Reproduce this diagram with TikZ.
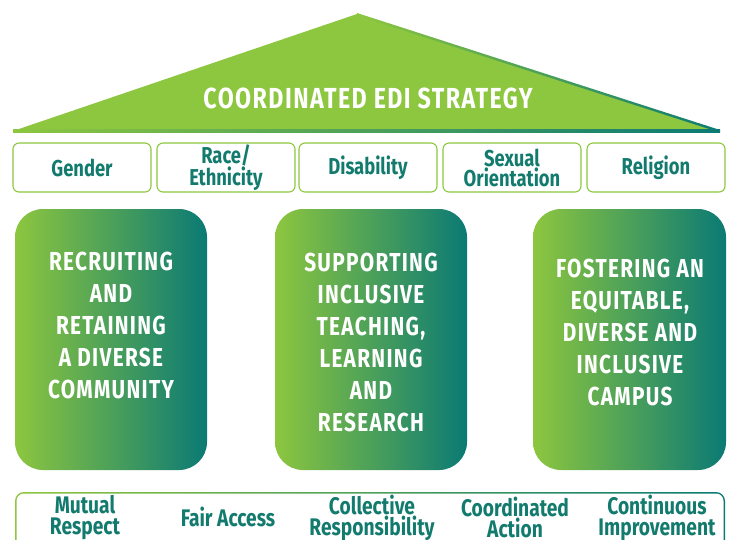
\documentclass[tikz,border=0pt]{standalone}
\usepackage{fontspec}
\setmainfont{Fira Sans}[FakeStretch=0.8]
\newfontfamily\capsfont{Fira Sans}[FakeStretch=0.8,LetterSpace=5]
\definecolor{lgreen}{HTML}{8DC63F}
\definecolor{dteal}{HTML}{0B7A74}
\definecolor{tealtext}{HTML}{127B6E}
\tikzset{
  catbox/.style={draw=lgreen, line width=1.1pt, rounded corners=6pt, fill=white},
  cattext/.style={text=tealtext, font=\bfseries\fontsize{23}{20}\selectfont, align=center},
  pillartext/.style={text=white, font=\capsfont\bfseries\fontsize{26}{32}\selectfont, align=center},
  valtext/.style={text=tealtext, font=\bfseries\fontsize{24}{21}\selectfont, align=center},
}
\begin{document}
\begin{tikzpicture}[x=1pt,y=-1pt]
\useasboundingbox (0,0) rectangle (735,539);
\clip (0,0) rectangle (735,539);
% roof
\fill[lgreen] (13,131) -- (357,14) -- (720,131) -- cycle;
\shade[left color=lgreen, right color=dteal] (357,13) -- (720,130) -- (720,132.5) -- (357,15.5) -- cycle;
\shade[left color=lgreen, right color=dteal] (13,129.8) rectangle (720,132.3);
\node[text=white, font=\capsfont\bfseries\fontsize{29}{30}\selectfont] (roof) at (368,98) {COORDINATED EDI STRATEGY};
% categories
\node[catbox, minimum width=138pt, minimum height=49pt] (c1) at (82,167.5) {};
\node[catbox, minimum width=138pt, minimum height=49pt] (c2) at (226,167.5) {};
\node[catbox, minimum width=138pt, minimum height=49pt] (c3) at (368,167.5) {};
\node[catbox, minimum width=138pt, minimum height=49pt] (c4) at (512,167.5) {};
\node[catbox, minimum width=138pt, minimum height=49pt] (c5) at (656,167.5) {};
\node[cattext] at (c1) {Gender};
\node[cattext] at (c2) {Race/\\Ethnicity};
\node[cattext] at (c3) {Disability};
\node[cattext] at (c4) {Sexual\\Orientation};
\node[cattext] at (c5) {Religion};
% pillars
\shade[left color=lgreen, right color=dteal, rounded corners=28pt] (15,209) rectangle (207,470);
\shade[left color=lgreen, right color=dteal, rounded corners=28pt] (275,209) rectangle (467,470);
\shade[left color=lgreen, right color=dteal, rounded corners=28pt] (533,209) rectangle (726,470);
\node[pillartext, anchor=north] (p1) at (111,248) {RECRUITING\\AND\\RETAINING\\A DIVERSE\\COMMUNITY};
\node[pillartext, anchor=north] (p2) at (371,249) {SUPPORTING\\INCLUSIVE\\TEACHING,\\LEARNING\\AND\\RESEARCH};
\node[pillartext, anchor=north] (p3) at (630,255) {FOSTERING AN\\EQUITABLE,\\DIVERSE AND\\INCLUSIVE\\CAMPUS};
% bottom band
\shade[left color=lgreen, right color=dteal, rounded corners=9pt] (15,492) rectangle (725,580);
\fill[white, rounded corners=7.5pt] (16.5,493.5) rectangle (723.5,580);
\node[valtext] (v1) at (85,517.5) {Mutual\\Respect};
\node[valtext] (v2) at (228,517) {Fair Access};
\node[valtext] (v3) at (372,517.5) {Collective\\Responsibility};
\node[valtext] (v4) at (515,517.5) {Coordinated\\Action};
\node[valtext] (v5) at (657,517.5) {Continuous\\Improvement};
\end{tikzpicture}
\end{document}
